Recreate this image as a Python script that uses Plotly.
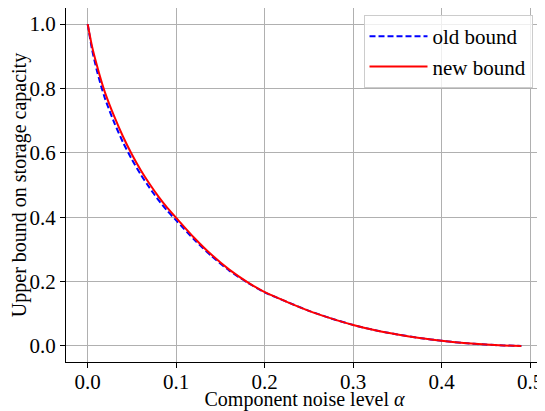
import plotly.graph_objects as go

# noise level (x) and the two bounds
alpha = [0.0, 0.005, 0.01, 0.015, 0.02, 0.03, 0.04, 0.05, 0.06, 0.07, 0.08, 0.09,
         0.10, 0.12, 0.14, 0.16, 0.18, 0.20, 0.225, 0.25, 0.275, 0.30, 0.325,
         0.35, 0.375, 0.40, 0.425, 0.45, 0.47, 0.49]
new_bound = [1.0, 0.93, 0.876, 0.827, 0.784, 0.713, 0.650, 0.595, 0.546, 0.503, 0.464, 0.429,
             0.398, 0.337, 0.283, 0.237, 0.199, 0.167, 0.137, 0.109, 0.0855, 0.065, 0.0485,
             0.0355, 0.0245, 0.016, 0.009, 0.004, 0.0014, 0.0]
old_bound = [1.0, 0.92, 0.86, 0.809, 0.765, 0.694, 0.632, 0.579, 0.532, 0.491, 0.453, 0.4195,
             0.39, 0.331, 0.279, 0.234, 0.1975, 0.1665, 0.137, 0.109, 0.0855, 0.065, 0.0485,
             0.0355, 0.0245, 0.016, 0.009, 0.004, 0.0014, 0.0]

serif = "Times New Roman, Times, Liberation Serif, DejaVu Serif, serif"

fig = go.Figure()
fig.add_trace(go.Scatter(x=alpha, y=old_bound, mode="lines", name="old bound",
                         line=dict(color="#0000ff", width=2, dash="6px,3px",
                                   shape="spline", smoothing=0.6)))
fig.add_trace(go.Scatter(x=alpha, y=new_bound, mode="lines", name="new bound",
                         line=dict(color="#ff0000", width=2, shape="spline", smoothing=0.6)))

axis_common = dict(
    showline=True, linecolor="black", linewidth=1, mirror=True,
    showgrid=True, gridcolor="#b0b0b0", gridwidth=0.8,
    ticks="outside", ticklen=5, tickwidth=1, tickcolor="black",
    tickformat=".1f", zeroline=False, automargin=False,
    tickfont=dict(family=serif, size=21, color="black"),
)

fig.update_xaxes(range=[-0.0245, 0.5145], dtick=0.1, tick0=0, ticklabelstandoff=-4,
                 title=dict(text="Component noise level <i>α</i>", standoff=3,
                            font=dict(family=serif, size=20, color="black")),
                 **axis_common)
fig.update_yaxes(range=[-0.05, 1.05], dtick=0.2, tick0=0,
                 title=dict(text="Upper bound on storage capacity", standoff=4,
                            font=dict(family=serif, size=20, color="black")),
                 **axis_common)

# the page body adds 8px on the left and top, so the figure is 8px smaller
fig.update_layout(
    width=537, height=403,
    margin=dict(l=58, r=2, t=0, b=49),
    plot_bgcolor="white", paper_bgcolor="white",
    font=dict(family=serif, size=21, color="black"),
    legend=dict(x=0.978, y=0.98, xanchor="right", yanchor="top", itemwidth=58,
                bgcolor="rgba(255,255,255,0.8)", bordercolor="#cccccc", borderwidth=1,
                font=dict(family=serif, size=21, color="black")),
)

fig.write_html("out.html")
